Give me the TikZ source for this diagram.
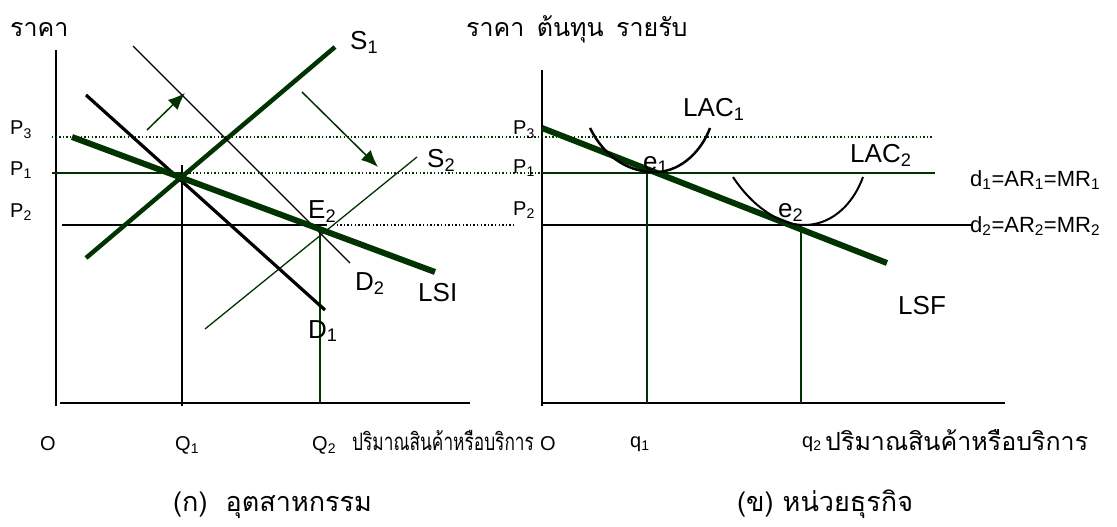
\documentclass[tikz,border=0pt]{standalone}
\usepackage{fontspec}
\setmainfont{Liberation Sans}
\newfontfamily\thaifont[Script=Thai]{Loma}
\newfontfamily\thaicond[Script=Thai,FakeStretch=0.72]{Loma}
\usetikzlibrary{arrows.meta}

\definecolor{dkgreen}{RGB}{0,51,0}

\begin{document}
\begin{tikzpicture}[x=1pt, y=-1pt, >={Latex[length=17pt,width=14pt]},
    curvelbl/.style={anchor=base west, inner sep=0pt, font=\fontsize{26}{28}\selectfont},
    pricelbl/.style={anchor=base west, inner sep=0pt, font=\fontsize{20}{22}\selectfont},
    revlbl/.style={anchor=base west, inner sep=0pt, font=\fontsize{22}{24}\selectfont},
    thailbl/.style={anchor=base west, inner sep=0pt},
    dotline/.style={dash pattern=on 1.4pt off 2.2pt, line width=1.3pt}]

        \useasboundingbox (0,0) rectangle (1117,527);

        % ==== KEY POINTS ====
        \coordinate (E1) at (182,176);
        \coordinate (E2) at (320,230);
        \coordinate (e1) at (647,173);
        \coordinate (e2) at (801,225);

        % ==== AXES ====
        \draw[line width=2pt] (56,50) -- (56,406);
        \draw[line width=2pt] (60,403) -- (470,403);
        \draw[line width=2pt] (542,70) -- (542,406);
        \draw[line width=2pt] (542,403) -- (1005,403);

        % ==== PRICE LINES ====
        \draw[dotline, dkgreen] (52,137) -- (933,137);
        \draw[line width=1.5pt, dkgreen] (52,173) -- (182,173);
        \draw[dotline, dkgreen] (182,173) -- (542,173);
        \draw[line width=1.5pt, dkgreen] (542,173) -- (935,173);
        \draw[line width=1.8pt] (62,225) -- (327,225);
        \draw[dotline] (333,225) -- (515,225);
        \draw[line width=1.8pt] (542,225) -- (973,225);

        % ==== QUANTITY LINES ====
        \draw[line width=1.5pt] (182,165) -- (182,406);
        \draw[line width=1.2pt, dkgreen] (E2) -- (320,403);
        \draw[line width=1.2pt, dkgreen] (e1) -- (647,403);
        \draw[line width=1.2pt, dkgreen] (e2) -- (801,403);

        % ==== INDUSTRY CURVES ====
        \draw[line width=4.5pt, dkgreen] (86,258) -- (335,47);
        \draw[line width=1.3pt, dkgreen] (205,329) -- (417,157);
        \draw[line width=3.2pt] (86,95) -- (325,310);
        \draw[line width=1.3pt] (133,46) -- (350,263);
        \draw[line width=6pt, dkgreen] (72,137) -- (435,272);

        % ==== SHIFT ARROWS ====
        \draw[->, line width=1.5pt, dkgreen] (147,130) -- (185,93);
        \draw[->, line width=1.5pt, dkgreen] (302,92) -- (378,167);

        % ==== FIRM CURVES ====
        \draw[line width=6pt, dkgreen] (542,128) -- (887,263);
        \draw[line width=2.5pt] (590,128) .. controls (606,160) and (632,173) .. (657,172)
            .. controls (682,171) and (702,150) .. (710,128);
        \draw[line width=2pt] (733,177) .. controls (752,206) and (780,226) .. (806,225)
            .. controls (834,224) and (854,202) .. (863,177);

        % ==== TITLES ====
        \node (tleft) [thailbl, font=\thaifont\fontsize{25}{27}\selectfont] at (10,37) {ราคา};
        \node (tright) [thailbl, font=\thaifont\fontsize{25}{27}\selectfont] at (466,37) {ราคา\hspace{4pt} ต้นทุน\hspace{4pt} รายรับ};

        % ==== PRICE LABELS ====
        \node (p3l) [pricelbl] at (10,135) {P\textsubscript{3}};
        \node (p1l) [pricelbl] at (10,175) {P\textsubscript{1}};
        \node (p2l) [pricelbl] at (10,217) {P\textsubscript{2}};
        \node (p3r) [pricelbl] at (513,135) {P\textsubscript{3}};
        \node (p1r) [pricelbl] at (513,173) {P\textsubscript{1}};
        \node (p2r) [pricelbl] at (513,215) {P\textsubscript{2}};

        % ==== CURVE LABELS ====
        \node (s1) [curvelbl] at (350,50) {S\textsubscript{1}};
        \node (s2) [curvelbl] at (427,167) {S\textsubscript{2}};
        \node (eq2) [curvelbl] at (308,218) {E\textsubscript{2}};
        \node (d2) [curvelbl] at (355,290) {D\textsubscript{2}};
        \node (d1) [curvelbl] at (308,338) {D\textsubscript{1}};
        \node (lsi) [curvelbl] at (418,301) {LSI};
        \node (lac1) [curvelbl] at (683,117) {LAC\textsubscript{1}};
        \node (lac2) [curvelbl] at (850,162) {LAC\textsubscript{2}};
        \node (ep1) [curvelbl] at (643,170) {e\textsubscript{1}};
        \node (ep2) [curvelbl] at (778,217) {e\textsubscript{2}};
        \node (lsf) [curvelbl] at (898,314) {LSF};
        \node (dd1) [revlbl] at (970,186) {d\textsubscript{1}=AR\textsubscript{1}=MR\textsubscript{1}};
        \node (dd2) [revlbl] at (970,232) {d\textsubscript{2}=AR\textsubscript{2}=MR\textsubscript{2}};

        % ==== QUANTITY LABELS ====
        \node (ol) [pricelbl] at (40,450) {O};
        \node (q1l) [pricelbl] at (175,450) {Q\textsubscript{1}};
        \node (q2l) [pricelbl] at (312,450) {Q\textsubscript{2}};
        \node (qtyl) [thailbl, font=\thaicond\fontsize{24}{26}\selectfont] at (352,450) {ปริมาณสินค้าหรือบริการ};
        \node (or) [pricelbl] at (540,450) {O};
        \node (q1r) [pricelbl] at (630,447) {q\textsubscript{1}};
        \node (q2r) [pricelbl] at (802,447) {q\textsubscript{2}};
        \node (qtyr) [thailbl, font=\thaifont\fontsize{25}{27}\selectfont] at (825,450) {ปริมาณสินค้าหรือบริการ};

        % ==== CAPTIONS ====
        \node (capa) [thailbl, font=\thaifont\fontsize{27}{29}\selectfont] at (173,511) {(ก)\ \ อุตสาหกรรม};
        \node (capb) [thailbl, font=\thaifont\fontsize{27}{29}\selectfont] at (737,511) {(ข) หน่วยธุรกิจ};

    \end{tikzpicture}
\end{document}
